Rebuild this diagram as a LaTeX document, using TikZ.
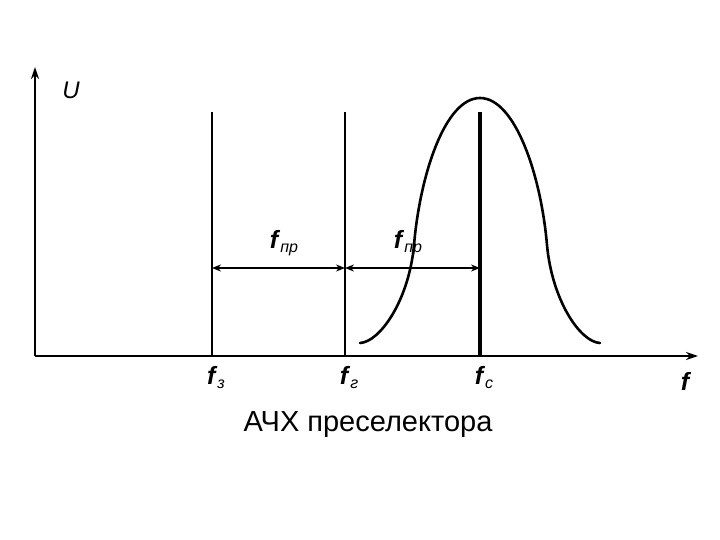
\documentclass[tikz,border=0pt]{standalone}
\usepackage{fontspec}
\setmainfont{Liberation Sans}
\usetikzlibrary{arrows.meta}

\newcommand{\fsub}[1]{\textbf{\textit{f}}\raisebox{-4pt}{\fontsize{16}{16}\selectfont\itshape #1}}

\begin{document}
\begin{tikzpicture}[x=1pt,y=-1pt,line width=2pt]
  \useasboundingbox (0,0) rectangle (720,540);
  \tikzset{
    flabel/.style={font=\fontsize{25}{28}\selectfont},
    dimarrow/.style={{Stealth[length=9pt,width=7pt]}-{Stealth[length=9pt,width=7pt]},line width=1.6pt},
    axis/.style={-{Stealth[length=12pt,width=8pt]},line width=1.8pt}
  }
  % axes
  \coordinate (O) at (35,356);
  \coordinate (ytop) at (35,67);
  \coordinate (xend) at (698,356);
  \draw[axis] (O) -- (ytop);
  \draw[axis] (O) -- (xend);
  \node[font=\fontsize{24}{26}\selectfont\itshape] (U) at (71,90) {U};
  \node[flabel] (f) at (686,381) {\textbf{\textit{f}}};

  % mirror, heterodyne and signal frequencies
  \foreach \name/\x/\w/\sub in {z/212/2.6/з, g/345/2.6/г, c/480/3.8/с} {
    \coordinate (\name-top) at (\x,112);
    \coordinate (\name-bot) at (\x,356);
    \coordinate (\name-mid) at (\x,268);
    \draw[line width=\w pt] (\name-bot) -- (\name-top);
    \node[flabel] (\name-lab) at (\x+4,378) {\fsub{\sub}};
  }

  % preselector response
  \draw[line width=2.6pt,line cap=round]
    (360,343) .. controls (380,342) and (409,300) .. (414,245)
              .. controls (420,175) and (445,98) .. (480,98)
              .. controls (515,98) and (541,175) .. (547,245)
              .. controls (552,300) and (580,342) .. (600,343);

  \draw[dimarrow] (z-mid) -- (g-mid);
  \draw[dimarrow] (g-mid) -- (c-mid);
  \node[flabel] (fpr1) at (284,243) {\fsub{пр}};
  \node[flabel] (fpr2) at (408,243) {\fsub{пр}};

  \node[font=\fontsize{29}{34}\selectfont] (caption) at (368,425) {АЧХ преселектора};
\end{tikzpicture}
\end{document}
